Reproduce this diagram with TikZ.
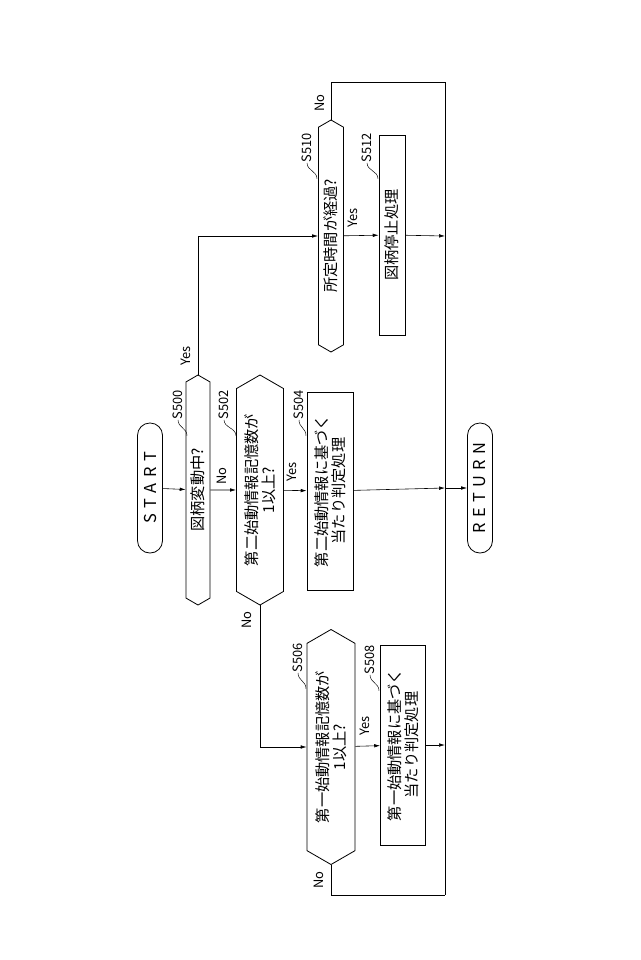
\documentclass[tikz,border=0pt]{standalone}
\usepackage{fontspec}
\setmainfont{Noto Sans CJK JP}
\usetikzlibrary{shapes.symbols, calc, arrows.meta}
\tikzset{Terminal/.style={%
    shape=rectangle,%
    rounded corners=0.37cm,%
    draw,%
    line width=0.7pt,%
    minimum height=0.75cm,%
    minimum width=3.9cm,%
    inner sep=1pt,%
    rotate=90,%
    font=\fontsize{14}{16}\selectfont,%
}}
\tikzset{Decision/.style={%
    shape=signal,%
    signal to=east and west,%
    signal pointer angle=120,%
    draw,%
    line width=0.7pt,%
    inner sep=0pt,%
    align=center,%
    rotate=90,%
    font=\fontsize{13}{15}\selectfont,%
}}
\tikzset{Process/.style={%
    shape=rectangle,%
    draw,%
    line width=0.7pt,%
    inner sep=0pt,%
    align=center,%
    rotate=90,%
    font=\fontsize{13}{15}\selectfont,%
}}
\tikzset{StepLabel/.style={%
    rotate=90,%
    inner sep=0pt,%
    font=\fontsize{11}{13}\selectfont,%
}}
\tikzset{FlowLabel/.style={%
    rotate=90,%
    inner sep=0pt,%
    font=\fontsize{11}{13}\selectfont,%
}}
\tikzset{FlowEdge/.style={%
    -{Latex[length=5pt,width=3pt]},%
    line width=0.5pt,%
}}
\tikzset{Tilde/.style={%
    line width=0.4pt,%
}}

\begin{document}
\begin{tikzpicture}[x=0.03cm, y=-0.03cm]
    \useasboundingbox (0,0) rectangle (640,960);

    \node[Terminal] (start) at (150,488) {S\,\,T\,\,A\,\,R\,\,T};
    \node[Decision, minimum width=6.9cm, minimum height=0.72cm] (S500) at (198,490) {図柄変動中?};
    \node[Decision, minimum width=6.9cm, minimum height=1.41cm] (S502) at (260,490) {第二始動情報記憶数が\\1以上?};
    \node[Process, minimum width=5.94cm, minimum height=1.38cm] (S504) at (330,491) {第二始動情報に基づく\\当たり判定処理};
    \node[Decision, minimum width=7.05cm, minimum height=1.44cm] (S506) at (331,747) {第一始動情報記憶数が\\1以上?};
    \node[Process, minimum width=6.0cm, minimum height=1.35cm] (S508) at (403,745) {第一始動情報に基づく\\当たり判定処理};
    \node[Decision, minimum width=6.96cm, minimum height=0.75cm] (S510) at (331,236) {所定時間が経過?};
    \node[Process, minimum width=6.0cm, minimum height=0.78cm] (S512) at (392,235) {図柄停止処理};
    \node[Terminal] (return) at (480,488) {R\,\,E\,\,T\,\,U\,\,R\,\,N};

    \coordinate (mTop) at (445,82);
    \coordinate (mBot) at (445,895);
    \coordinate (m512) at (445,236);
    \coordinate (m504) at (445,488);
    \coordinate (m508) at (445,745);

    % step labels
    \node[StepLabel] (l500) at (178,405) {S500};
    \node[StepLabel] (l502) at (224,405) {S502};
    \node[StepLabel] (l504) at (299,405) {S504};
    \node[StepLabel] (l506) at (298,658) {S506};
    \node[StepLabel] (l508) at (370,660) {S508};
    \node[StepLabel] (l510) at (307,148) {S510};
    \node[StepLabel] (l512) at (367,148) {S512};
    \foreach \s/\d in {500/9, 502/12, 504/7, 506/8, 508/9, 510/10, 512/11}
        \draw[Tilde] (l\s.west) .. controls +(0,8) and +(0,-8) .. ($(l\s.west)+(\d,16)$);

    % branch labels
    \node[FlowLabel] at (186,356) {Yes};
    \node[FlowLabel] at (222,476) {No};
    \node[FlowLabel] at (292,472) {Yes};
    \node[FlowLabel] at (247,620) {No};
    \node[FlowLabel] at (365,726) {Yes};
    \node[FlowLabel] at (319,880) {No};
    \node[FlowLabel] at (353,218) {Yes};
    \node[FlowLabel] at (320,103) {No};

    % connectors
    \draw[FlowEdge] (start) -- (S500);
    \draw[FlowEdge] (S500) -- (S502);
    \draw[FlowEdge] (S502) -- (S504);
    \draw[FlowEdge] (S504) -- (m504);
    \draw[FlowEdge] (S500.east) |- (S510);
    \draw[FlowEdge] (S510) -- (S512);
    \draw[FlowEdge] (S512) -- (m512);
    \draw[FlowEdge] (S502.west) |- (S506);
    \draw[FlowEdge] (S506) -- (S508);
    \draw[FlowEdge] (S508) -- (m508);
    \draw[line width=0.5pt] (S510.east) |- (mTop) -- (mBot);
    \draw[line width=0.5pt] (S506.west) |- (mBot);
    \draw[FlowEdge] (m504) -- (return);
\end{tikzpicture}
\end{document}
